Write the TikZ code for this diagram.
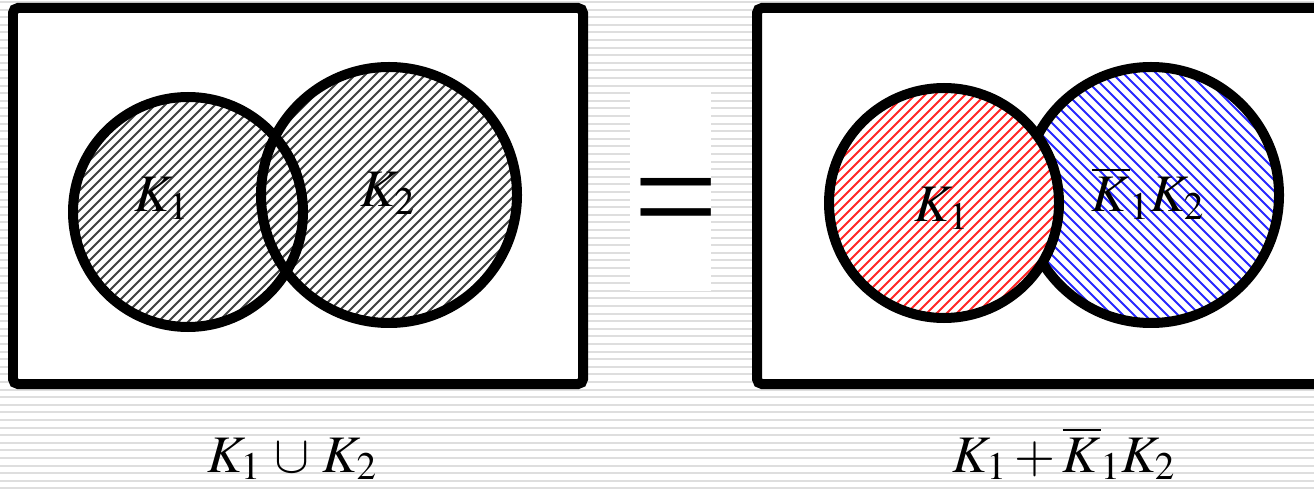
\documentclass[tikz,border=0pt]{standalone}
\usepackage{mathptmx}
\usepackage[no-math]{fontspec}
\newfontfamily\eqfont{Liberation Serif}
\begin{document}
\begin{tikzpicture}[x=0.02cm,y=-0.02cm,
  frame/.style={line width=0.2cm, rounded corners=0.1cm, fill=white},
  ring/.style={line width=0.2cm},
  hatch/.style={line width=0.038cm},
  lbl/.style={anchor=base, inner sep=0pt, font=\fontsize{30}{36}\selectfont},
  stripe/.style={black!13, line width=0.04cm}]

\useasboundingbox (0,0) rectangle (1314,489);

% striped background
\foreach \y in {2,9.6,...,489} \draw[stripe] (0,\y) -- (1314,\y);

% the two frames
\draw[frame] (13,8) rectangle (583,384);
\draw[frame] (757,8) rectangle (1340,384);

% left: union, both sets hatched
\begin{scope}
  \clip (188,212) circle (115);
  \foreach \i in {0,10,...,1100} \draw[hatch, black!75] (\i,0) -- (\i-500,500);
\end{scope}
\begin{scope}
  \clip (389,195) circle (128);
  \foreach \i in {0,10,...,1100} \draw[hatch, black!75] (\i,0) -- (\i-500,500);
\end{scope}
\draw[ring] (188,212) circle (115);
\draw[ring] (389,195) circle (128);

\node[lbl] (ka) at (162,212) {$K_1$};
\node[lbl] (kb) at (388,207) {$K_2$};

% equals sign
\fill[white] (630,88) rectangle (711,291);
\node[inner sep=0pt, font=\fontsize{86}{90}\eqfont] (eq) at (676,213) {=};

% right: disjoint sum, K2 behind K1
\fill[white] (1151,195) circle (128);
\begin{scope}
  \clip (1151,195) circle (128);
  \foreach \i in {500,511,...,1400} \draw[hatch, blue!85] (\i,0) -- (\i+500,500);
\end{scope}
\draw[ring] (1151,195) circle (128);

\fill[white] (944,203) circle (115);
\begin{scope}
  \clip (944,203) circle (115);
  \foreach \i in {700,710,...,1600} \draw[hatch, red!85] (\i,0) -- (\i-500,500);
\end{scope}
\draw[ring] (944,203) circle (115);

\node[lbl] (kc) at (942,222) {$K_1$};
\node[lbl] (kd) at (1148,212) {$\overline{K}_1K_2$};

% captions
\node[lbl] (union) at (292,472) {$K_1\,\cup\,K_2$};
\node[lbl] (sum) at (1064,472) {$K_1+\overline{K}_1K_2$};

\end{tikzpicture}
\end{document}
